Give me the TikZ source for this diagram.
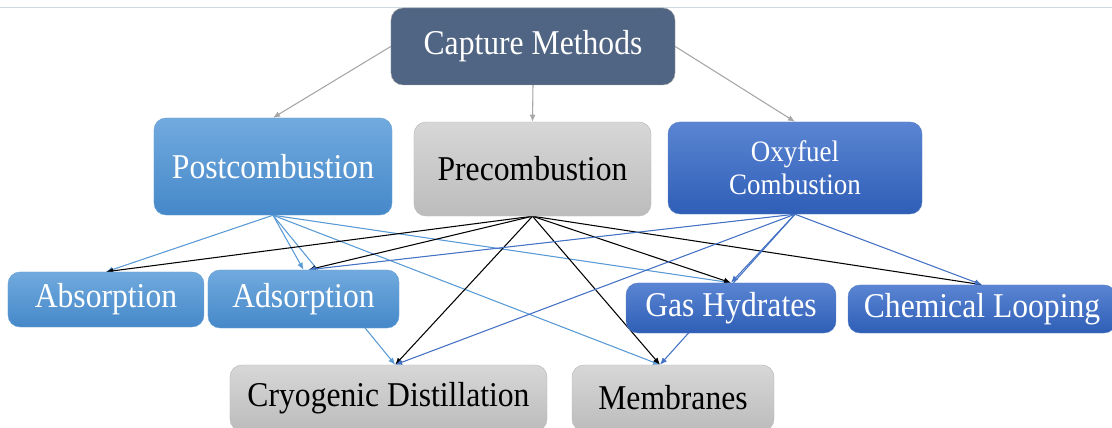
\documentclass[tikz,border=0pt]{standalone}
\usepackage{graphicx}
\usepackage{fontspec}
\setmainfont{Liberation Serif}
\usetikzlibrary{arrows.meta,backgrounds}
\definecolor{capfill}{HTML}{506483}
\definecolor{lightblueA}{HTML}{71AADE}
\definecolor{lightblueB}{HTML}{4588C9}
\definecolor{greyA}{HTML}{D7D7D7}
\definecolor{greyB}{HTML}{BCBCBC}
\definecolor{darkblueA}{HTML}{5B85D3}
\definecolor{darkblueB}{HTML}{2E5EB6}
\definecolor{postline}{HTML}{5B9BD5}
\definecolor{oxyline}{HTML}{4472C4}
\definecolor{ruleline}{HTML}{D3D9E1}
\newcommand{\talltext}[1]{\scalebox{1}[1.1]{#1}}
\tikzset{
    methbox/.style={rounded corners=0.36cm, align=center, inner sep=0pt, font=\fontsize{27}{30}\selectfont},
    capnode/.style={methbox, fill=capfill, draw=gray!70, text=white},
    postnode/.style={methbox, top color=lightblueA, bottom color=lightblueB, draw=lightblueB!80, text=white},
    prenode/.style={methbox, top color=greyA, bottom color=greyB, draw=gray!55, text=black},
    oxynode/.style={methbox, top color=darkblueA, bottom color=darkblueB, draw=darkblueB!80, text=white},
    linkarrow/.style={-{Latex[length=6pt,width=5pt]}, line width=0.9pt},
    toparrow/.style={linkarrow, draw=gray!70, fill=gray!70},
    postarrow/.style={linkarrow, draw=postline, fill=postline},
    prearrow/.style={linkarrow, draw=black},
    oxyarrow/.style={linkarrow, draw=oxyline, fill=oxyline}
}

\begin{document}
\begin{tikzpicture}[x=0.03cm, y=-0.03cm]
    \useasboundingbox (0,0) rectangle (1112,428);
    \clip (0,0) rectangle (1112,428);

    \node[capnode, minimum width=8.52cm, minimum height=2.31cm] (cap) at (533,46.5) {\talltext{Capture Methods}};

    \node[postnode, minimum width=7.14cm, minimum height=2.91cm] (post) at (273,166.5) {\talltext{Postcombustion}};
    \node[prenode, minimum width=7.11cm, minimum height=2.82cm] (pre) at (532.5,169) {\talltext{Precombustion}};
    \node[oxynode, minimum width=7.62cm, minimum height=2.76cm, font=\fontsize{23}{28}\selectfont] (oxy) at (795,168) {\talltext{Oxyfuel}\\\talltext{Combustion}};

    \node[postnode, minimum width=5.88cm, minimum height=1.65cm] (abs) at (106,299.5) {\talltext{Absorption}};
    \node[postnode, minimum width=5.73cm, minimum height=1.74cm] (ads) at (303.5,299) {\talltext{Adsorption}};
    \node[oxynode, minimum width=6.30cm, minimum height=1.50cm] (gh) at (731,308) {\talltext{Gas Hydrates}};
    \node[oxynode, minimum width=8.04cm, minimum height=1.44cm] (cl) at (982,309) {\talltext{Chemical Looping}};

    \node[prenode, minimum width=9.51cm, minimum height=1.98cm] (cryo) at (388.5,398) {\talltext{Cryogenic Distillation}};
    \node[prenode, minimum width=6.06cm, minimum height=1.98cm] (mem) at (673,398) {\talltext{Membranes}};

    \begin{scope}[on background layer]
        \draw[ruleline, line width=0.8pt] (0,7) -- (1112,7);

        \draw[toparrow] (cap.west) -- (post.north);
        \draw[toparrow] (cap.south) -- (pre.north);
        \draw[toparrow] (cap.east) -- (oxy.north);

        \draw[postarrow] (post.south) -- (abs.north);
        \draw[postarrow] (post.south) -- (ads.north);
        \draw[postarrow] (post.south) -- ([xshift=0.2cm]cryo.north);
        \draw[postarrow] (post.south) -- (gh.north);
        \draw[postarrow] (post.south) -- ([xshift=-0.39cm]mem.north);

        \draw[prearrow] (pre.south) -- (abs.north);
        \draw[prearrow] (pre.south) -- ([xshift=0.15cm]ads.north);
        \draw[prearrow] (pre.south) -- ([xshift=0.2cm]cryo.north);
        \draw[prearrow] (pre.south) -- ([xshift=-0.39cm]mem.north);
        \draw[prearrow] (pre.south) -- (gh.north);
        \draw[prearrow] (pre.south) -- (cl.north);

        \draw[oxyarrow] (oxy.south) -- ([xshift=0.15cm]ads.north);
        \draw[oxyarrow] (oxy.south) -- ([xshift=0.2cm]cryo.north);
        \draw[oxyarrow] (oxy.south) -- (gh.north);
        \draw[oxyarrow] (oxy.south) -- ([xshift=-0.39cm]mem.north);
        \draw[oxyarrow] (oxy.south) -- (cl.north);
    \end{scope}
\end{tikzpicture}
\end{document}
